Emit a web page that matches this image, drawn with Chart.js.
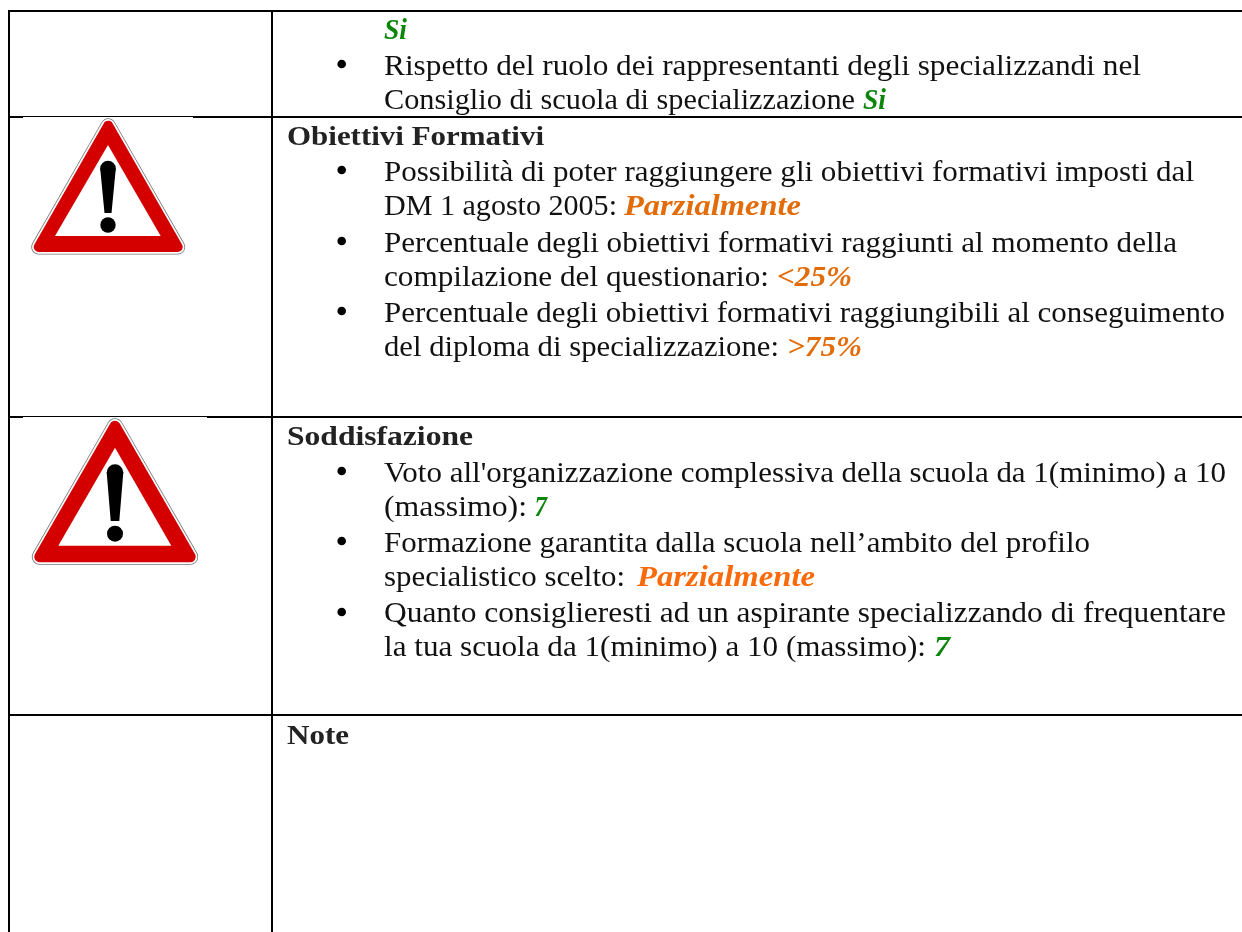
<!DOCTYPE html>
<html lang="it"><head><meta charset="utf-8">
<style>html,body{margin:0;padding:0;background:#fff}canvas{display:block}</style>
<script src="https://cdn.jsdelivr.net/npm/chart.js@4"></script></head>
<body><canvas id="c" width="1242" height="932"></canvas>
<script>
// Table rules
const ruleVerticals = [9, 272];
const ruleHorizontals = [
  [[8,11],[1242,11]],
  [[8,117],[23,117]], [[193,117],[1242,117]],
  [[8,417],[23,417]], [[207,417],[1242,417]],
  [[8,715],[1242,715]]
];
const ruleThin = [[[23,116.5],[193,116.5]], [[23,416.5],[207,416.5]]];
// Warning signs
const signOuter = [
  [[108,247],[177.7,247],[108.2,125.7],[38.7,247]],
  [[115,556.8],[190.2,556.8],[115,426.2],[39.8,556.8]]
];
const signStroke = [10, 11];
const signInner = [
  [[55,236],[160.7,236],[108,145]],
  [[58.3,545.7],[171.3,545.7],[115,447.7]]
];
const signBar = [
  [[100.2,168.5],[115.8,168.5],[111.5,213],[104.5,213]],
  [[106.7,472.5],[123.3,472.5],[119.3,521],[110.7,521]]
];
const signBarTop = [[108,168.5],[115,472.5]];
const signBarTopR = [7.8, 8.3];
const signDot = [[108,225],[115,533.7]];
const signDotR = [7.7, 8];
// Bullets
const bullets = [[341.7,64],[341.7,170],[341.7,241],[341.7,311],[341.7,471],[341.7,541],[341.7,612]];
// Text lines: [baseline, runs]; each run: [style, text, start x, end x]
const N='n', B='b', G='g', O='o', P='p';
const textLines = [
 [39,[[G,'Si',384,407]]],
 [75,[[N,'Rispetto del ruolo dei rappresentanti degli specializzandi nel',384,1141]]],
 [109,[[N,'Consiglio di scuola di specializzazione',384,855],[G,'Si',863,886]]],
 [145,[[B,'Obiettivi Formativi',287,544]]],
 [181,[[N,'Possibilità di poter raggiungere gli obiettivi formativi imposti dal',384,1194]]],
 [215,[[N,'DM 1 agosto 2005:',384,617],[O,'Parzialmente',624,801]]],
 [252,[[N,'Percentuale degli obiettivi formativi raggiunti al momento della',384,1177]]],
 [286,[[N,'compilazione del questionario:',384,769],[O,'<25%',777,852]]],
 [322,[[N,'Percentuale degli obiettivi formativi raggiungibili al conseguimento',384,1225]]],
 [356,[[N,'del diploma di specializzazione:',384,779],[O,'>75%',787,862]]],
 [445,[[B,'Soddisfazione',287,473]]],
 [482,[[N,"Voto all'organizzazione complessiva della scuola da 1(minimo) a 10",384,1226]]],
 [516,[[N,'(massimo):',384,527],[G,'7',534.5,547]]],
 [552,[[N,'Formazione garantita dalla scuola nell’ambito del profilo',384,1090]]],
 [586,[[N,'specialistico scelto:',384,625],[P,'Parzialmente',637,815]]],
 [622,[[N,'Quanto consiglieresti ad un aspirante specializzando di frequentare',384,1226]]],
 [656,[[N,'la tua scuola da 1(minimo) a 10 (massimo):',384,926],[G,'7',934,950]]],
 [744,[[B,'Note',287,349]]]
];
const runStyle = {
 n:{font:'29px "Liberation Serif"',color:'#111'},
 b:{font:'bold 28px "Liberation Serif"',color:'#222'},
 g:{font:'italic bold 29px "Liberation Serif"',color:'#0b860b'},
 o:{font:'italic bold 29px "Liberation Serif"',color:'#e36c0a'},
 p:{font:'italic bold 29px "Liberation Serif"',color:'#fb6a0a'}
};
const pts = a => a.map(p=>({x:p[0],y:p[1]}));
const poly = a => pts(a.concat([a[0]]));
const ds = [];
function line(a,w,col){ds.push({data:pts(a),borderColor:col,borderWidth:w,pointRadius:0,fill:false,tension:0,clip:false});}
function shape(a,fillc,strokec,w){ds.push({data:poly(a),borderColor:strokec,backgroundColor:fillc,borderWidth:w,borderJoinStyle:'round',pointRadius:0,fill:'shape',tension:0,clip:false});}
function dot(p,r,col){ds.push({data:pts([p]),pointRadius:r,pointBackgroundColor:col,pointBorderWidth:0,showLine:false,clip:false});}
ruleVerticals.forEach(x=>line([[x,10],[x,932]],2,'#000'));
ruleHorizontals.forEach(a=>line(a,2,'#000'));
ruleThin.forEach(a=>line(a,1,'#000'));
signOuter.forEach((a,i)=>{
  shape(a,'#777','#777',signStroke[i]+5);
  shape(a,'#fff','#fff',signStroke[i]+3.4);
  shape(a,'#d40000','#d40000',signStroke[i]);
  shape(signInner[i],'#fff','#fff',0.01);
  shape(signBar[i],'#000','#000',0.01);
  dot(signBarTop[i],signBarTopR[i],'#000');
  dot(signDot[i],signDotR[i],'#000');
});
bullets.forEach(p=>dot(p,4.3,'#000'));
ds.forEach((d,i)=>d.order=-i);
const textPlugin={id:'docText',afterDatasetsDraw(ch){
  const c=ch.ctx,X=ch.scales.x,Y=ch.scales.y;
  c.save();c.textBaseline='alphabetic';c.textAlign='left';
  textLines.forEach(([y,runs])=>{
    const py=Y.getPixelForValue(y);
    runs.forEach(([k,t,x0,x1])=>{
      c.font=runStyle[k].font;c.fillStyle=runStyle[k].color;
      const px=X.getPixelForValue(x0),s=(X.getPixelForValue(x1)-px)/c.measureText(t).width;
      c.save();c.translate(px,py);c.scale(s,1);c.fillText(t,0,0);c.restore();
    });
  });
  c.restore();
}};
new Chart(document.getElementById('c'),{type:'line',data:{datasets:ds},plugins:[textPlugin],options:{
  responsive:false,animation:false,events:[],
  layout:{padding:0,autoPadding:false},
  plugins:{legend:{display:false},tooltip:{enabled:false},title:{display:false}},
  scales:{x:{type:'linear',display:false,min:0,max:1242,offset:false},y:{type:'linear',display:false,min:0,max:932,reverse:true,offset:false}}
}});
</script></body></html>
